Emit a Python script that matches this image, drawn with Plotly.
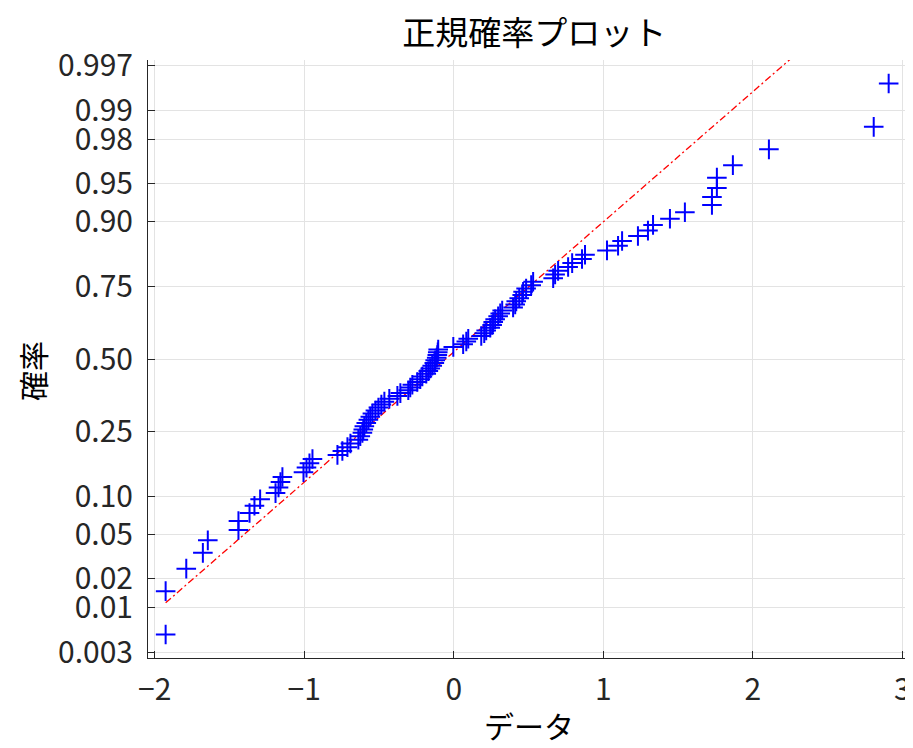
import plotly.graph_objects as go
from statistics import NormalDist

# Sample data, sorted
data = [
    -1.927, -1.927, -1.789, -1.678, -1.645, -1.440, -1.440, -1.366, -1.333, -1.295,
    -1.192, -1.172, -1.159, -1.146, -1.005, -0.985, -0.965, -0.945, -0.778, -0.745,
    -0.711, -0.691, -0.638, -0.625, -0.611, -0.605, -0.598, -0.585, -0.571, -0.558,
    -0.544, -0.524, -0.504, -0.484, -0.464, -0.431, -0.377, -0.357, -0.304, -0.291,
    -0.277, -0.244, -0.224, -0.210, -0.184, -0.170, -0.157, -0.144, -0.130, -0.124,
    -0.114, -0.110, -0.107, -0.104, -0.003, 0.063, 0.084, 0.097, 0.184, 0.204,
    0.217, 0.244, 0.257, 0.264, 0.277, 0.297, 0.311, 0.324, 0.397, 0.411,
    0.418, 0.438, 0.458, 0.464, 0.484, 0.518, 0.531, 0.665, 0.678, 0.698,
    0.765, 0.792, 0.858, 0.878, 1.025, 1.099, 1.126, 1.232, 1.299, 1.333,
    1.446, 1.546, 1.727, 1.727, 1.760, 1.760, 1.867, 2.108, 2.809, 2.909,
]

prob_ticks = [0.003, 0.01, 0.02, 0.05, 0.10, 0.25, 0.50, 0.75, 0.90, 0.95, 0.98, 0.99, 0.997]
prob_labels = ["0.003", "0.01", "0.02", "0.05", "0.10", "0.25", "0.50",
               "0.75", "0.90", "0.95", "0.98", "0.99", "0.997"]
x_ticks = [-2, -1, 0, 1, 2, 3]

title_text = "正規確率プロット"
x_label = "データ"
y_label = "確率"

nd = NormalDist()
xs = sorted(data)
n = len(xs)
zs = [nd.inv_cdf((i + 0.5) / n) for i in range(n)]
ztick = [nd.inv_cdf(p) for p in prob_ticks]

# reference line through the quartiles (MATLAB-style prctile)
q1 = (xs[24] + xs[25]) / 2
q3 = (xs[74] + xs[75]) / 2
z1, z3 = nd.inv_cdf(0.25), nd.inv_cdf(0.75)
slope = (z3 - z1) / (q3 - q1)
line_x = [xs[0], xs[-1]]
line_z = [z1 + slope * (v - q1) for v in line_x]

FONT = "Noto Sans CJK JP"
AX = "#262626"
GRID = "#e3e3e3"

fig = go.Figure()
fig.add_trace(go.Scatter(
    x=line_x, y=line_z, mode="lines",
    line=dict(color="#ff0000", width=1.3, dash="7px,3px,2px,3px"),
    hoverinfo="skip", showlegend=False,
))
fig.add_trace(go.Scatter(
    x=xs, y=zs, mode="markers",
    marker=dict(symbol="cross-thin", size=14, color="#0000ff",
                line=dict(color="#0000ff", width=2)),
    showlegend=False,
))

fig.update_layout(
    width=905, height=740,
    margin=dict(l=140, r=4, t=52, b=90, autoexpand=False),
    paper_bgcolor="white", plot_bgcolor="white",
    font=dict(family=FONT, color=AX),
    title=dict(text=title_text, x=0.5815, xanchor="center", y=0.966, yanchor="middle",
               font=dict(family=FONT, size=33, color="#000000")),
    xaxis=dict(
        range=[-2.045, 3.045], tickvals=x_ticks, automargin=False,
        showgrid=True, gridcolor=GRID, gridwidth=1,
        zeroline=False, showline=True, linecolor=AX, linewidth=1,
        ticks="inside", ticklen=7, tickcolor=AX, tickwidth=1,
        tickfont=dict(family=FONT, size=30, color=AX),
        ticklabelstandoff=5,
    ),
    yaxis=dict(
        range=[-2.795, 2.795], tickvals=ztick, ticktext=prob_labels, automargin=False,
        showgrid=True, gridcolor=GRID, gridwidth=1,
        zeroline=False, showline=True, linecolor=AX, linewidth=1,
        ticks="inside", ticklen=7, tickcolor=AX, tickwidth=1,
        tickfont=dict(family=FONT, size=30, color=AX),
        ticklabelstandoff=8,
    ),
    annotations=[
        dict(text=x_label, xref="paper", yref="paper", x=0.5, y=0, yshift=-67,
             xanchor="center", yanchor="middle", showarrow=False,
             font=dict(family=FONT, size=30, color="#000000")),
        dict(text=y_label, xref="paper", yref="paper", x=0, xshift=-116, y=0.5, yshift=-12,
             xanchor="center", yanchor="middle", showarrow=False, textangle=-90,
             font=dict(family=FONT, size=30, color="#000000")),
    ],
)

fig.write_html("out.html")
